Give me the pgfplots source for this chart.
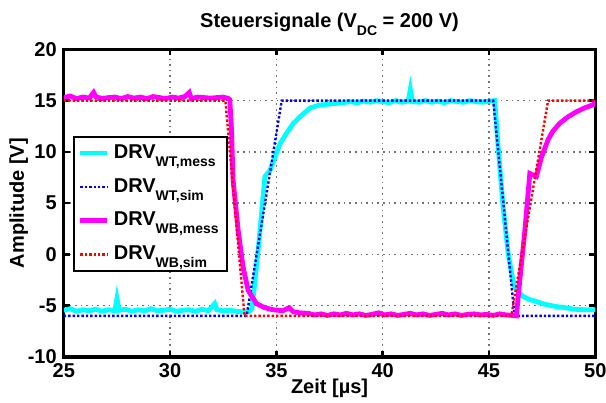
\documentclass[border=0pt]{standalone}
\usepackage{fontspec}
\setmainfont{Liberation Sans}
\usepackage{pgfplots}
\pgfplotsset{compat=1.18}
\newcommand{\sub}[1]{\raisebox{-4pt}{\fontsize{7pt}{8pt}\selectfont #1}}
\definecolor{mcyan}{rgb}{0,1,1}
\definecolor{mblue}{rgb}{0,0,1}
\definecolor{mmag}{rgb}{1,0,1}
\definecolor{mred}{rgb}{1,0,0}
\definecolor{gridgray}{rgb}{0.45,0.45,0.45}

\begin{document}
\begin{tikzpicture}

\begin{axis}[%
name=ax,
width=265.75pt,
height=153.75pt,
scale only axis,
xmin=25, xmax=50,
ymin=-10, ymax=20,
xtick={25,30,35,40,45,50},
ytick={-10,-5,0,5,10,15,20},
/pgf/number format/assume math mode=true,
tick label style={font=\bfseries},
label style={font=\bfseries},
xlabel={Zeit [µs]},
ylabel={Amplitude [V]},
xlabel style={at={(axis description cs:0.5,-0.1203)},anchor=base},
ylabel style={at={(axis description cs:-0.0753,0.5)},anchor=base},
title={Steuersignale (V\sub{DC} = 200 V)},
every axis title shift=0pt,
title style={font=\bfseries,at={(axis description cs:0.5,1.0702)},anchor=base},
xmajorgrids=true,
ymajorgrids=true,
grid style={color=gridgray, line width=0.8pt, dotted},
axis line style={line width=1.6pt},
major tick style={black, line width=1.2pt},
major tick length=3pt,
tick align=inside,
legend style={at={(axis description cs:0.017,0.72)},anchor=north west,
  draw=black,line width=1.2pt,fill=white,font=\bfseries,legend cell align=left,
  row sep=4.5pt, inner xsep=2pt},
legend image code/.code={\draw[#1] (0pt,0pt) -- (13.5pt,0pt);}
]

% DRV WT gemessen
\addplot [color=mcyan, solid, line width=2.4pt]
table[row sep=crcr]{
25 -5.45\\ 25.3 -5.3\\ 25.6 -5.55\\ 25.9 -5.4\\ 26.2 -5.5\\ 26.5 -5.35\\
26.8 -5.55\\ 27.1 -5.4\\ 27.4 -5.5\\ 27.5 -4.3\\ 27.6 -5.45\\ 27.9 -5.35\\
28.2 -5.55\\ 28.5 -5.4\\ 28.8 -5.5\\ 29.1 -5.3\\ 29.4 -5.5\\ 29.7 -5.45\\
30.0 -5.35\\ 30.3 -5.55\\ 30.6 -5.45\\ 30.9 -5.4\\ 31.2 -5.55\\ 31.5 -5.35\\
31.8 -5.5\\ 32.1 -4.8\\ 32.2 -5.4\\ 32.5 -5.5\\ 32.8 -5.45\\ 33.1 -5.55\\
33.4 -5.6\\ 33.7 -5.6\\ 33.85 -5.3\\ 33.93 -3.8\\ 34.16 0.8\\ 34.46 7.6\\
34.7 8.2\\ 35.17 10.8\\ 35.5 11.9\\ 35.8 12.8\\ 36.2 13.6\\ 36.6 14.3\\
37.0 14.55\\ 37.4 14.65\\ 37.9 14.75\\ 38.45 14.9\\ 38.8 14.8\\ 39.1 14.95\\
39.4 14.85\\ 39.7 15.0\\ 40.0 14.9\\ 40.3 14.8\\ 40.6 15.0\\ 40.9 14.85\\
41.2 14.95\\ 41.3 16.1\\ 41.4 14.9\\ 41.7 14.85\\ 42.0 15.0\\ 42.3 14.85\\
42.6 14.95\\ 42.9 14.8\\ 43.2 15.0\\ 43.5 14.9\\ 43.8 14.85\\ 44.1 15.0\\
44.4 14.9\\ 44.7 14.85\\ 45.0 14.95\\ 45.27 15.0\\ 45.43 10.5\\ 45.66 4.7\\
45.9 0.1\\ 46.06 -1.8\\ 46.2 -3.1\\ 46.4 -3.7\\ 46.6 -4.1\\ 46.9 -4.4\\
47.23 -4.6\\ 47.6 -4.85\\ 48.17 -5.1\\ 48.6 -5.2\\ 49.0 -5.35\\ 49.5 -5.4\\
50 -5.4\\
};
\addlegendentry{DRV\sub{WT,mess}}

% DRV WT simuliert
\addplot [color=mblue, line width=1.2pt, dash pattern=on 1.2pt off 1pt]
table[row sep=crcr]{
25 -6\\ 33.6 -6\\ 35.25 15\\ 45.2 15\\ 46.2 -6\\ 50 -6\\
};
\addlegendentry{DRV\sub{WT,sim}}

% DRV WB gemessen
\addplot [color=mmag, solid, line width=2.4pt]
table[row sep=crcr]{
25 15.3\\ 25.3 15.45\\ 25.6 15.2\\ 25.9 15.35\\ 26.2 15.25\\ 26.4 15.8\\
26.5 15.4\\ 26.8 15.2\\ 27.1 15.3\\ 27.4 15.35\\ 27.7 15.2\\ 28.0 15.4\\
28.3 15.25\\ 28.6 15.35\\ 28.9 15.2\\ 29.2 15.4\\ 29.5 15.3\\ 29.8 15.2\\
30.1 15.35\\ 30.4 15.25\\ 30.7 15.4\\ 30.9 15.8\\ 31.0 15.2\\ 31.3 15.35\\
31.6 15.3\\ 31.9 15.25\\ 32.2 15.3\\ 32.5 15.35\\ 32.75 15.2\\ 32.81 15.1\\
32.89 12.1\\ 32.96 7.3\\ 33.2 2.4\\ 33.43 -1.2\\ 33.67 -3.5\\ 34.06 -4.8\\
34.45 -5.2\\ 34.85 -5.4\\ 35.3 -5.5\\ 35.6 -5.2\\ 35.8 -5.6\\ 36.1 -5.7\\
36.5 -5.75\\ 36.8 -5.9\\ 37.1 -5.8\\ 37.4 -5.95\\ 37.7 -5.8\\ 38.0 -5.9\\
38.3 -5.75\\ 38.6 -5.9\\ 38.9 -5.8\\ 39.2 -5.95\\ 39.5 -5.85\\ 39.8 -5.7\\
40.1 -5.9\\ 40.4 -5.8\\ 40.7 -5.95\\ 41.0 -5.85\\ 41.3 -5.75\\ 41.6 -5.9\\
41.9 -5.8\\ 42.2 -5.95\\ 42.5 -5.85\\ 42.8 -5.75\\ 43.1 -5.9\\ 43.4 -5.8\\
43.7 -5.95\\ 44.0 -5.85\\ 44.3 -5.8\\ 44.6 -5.9\\ 44.9 -5.85\\ 45.2 -5.95\\
45.5 -5.8\\ 45.8 -5.9\\ 46.1 -5.95\\ 46.29 -6.0\\ 46.45 -2.5\\ 46.69 2.4\\
46.92 7.9\\ 47.23 7.6\\ 47.47 9.5\\ 47.78 11.2\\ 48.0 12.0\\ 48.33 12.8\\
48.7 13.4\\ 49.1 13.9\\ 49.5 14.3\\ 49.9 14.6\\ 50 15.0\\
};
\addlegendentry{DRV\sub{WB,mess}}

% DRV WB simuliert
\addplot [color=mred, line width=1.2pt, dash pattern=on 1.2pt off 1pt]
table[row sep=crcr]{
25 15\\ 32.6 15\\ 33.5 -6\\ 46.05 -6\\ 47.78 15\\ 50 15\\
};
\addlegendentry{DRV\sub{WB,sim}}

\end{axis}

\pgfresetboundingbox
\path[use as bounding box] ([shift={(-31.9pt,-23pt)}]ax.south west) rectangle ([shift={(5.35pt,24.7pt)}]ax.north east);
\end{tikzpicture}
\end{document}
